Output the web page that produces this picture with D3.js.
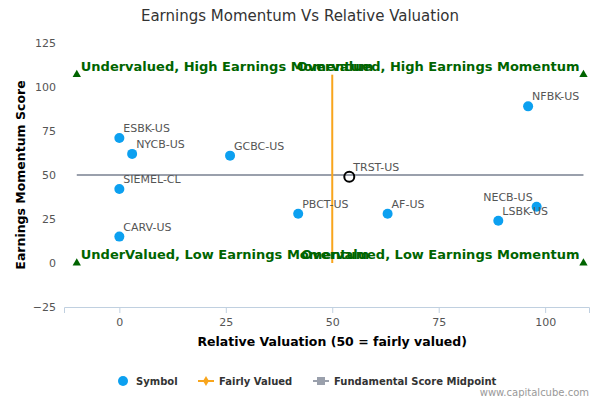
<!DOCTYPE html><html><head><meta charset="utf-8"><script src="https://cdn.jsdelivr.net/npm/d3@7"></script>
<style>body{margin:0;background:#fff}text{font-family:"DejaVu Sans",sans-serif}</style></head><body><svg id="c" width="600" height="400"></svg><script>
const symbols=["NFBK-US","ESBK-US","NYCB-US","GCBC-US","SIEMEL-CL","PBCT-US","AF-US","NECB-US","LSBK-US","CARV-US"];
const valuation=[96,0,3,26,0,42,63,98,89,0];
const momentum=[89,71,62,61,42,28,28,32,24,15];
const subject={name:"TRST-US",x:54,y:49};
const xTicks=[0,25,50,75,100];
const yTicks=[-25,0,25,50,75,100,125];
const quadrants=[["Undervalued, High Earnings Momentum",-10,107],["Overvalued, High Earnings Momentum",109,107],["UnderValued, Low Earnings Momentum",-10,0],["Overvalued, Low Earnings Momentum",109,0]];
const svg=d3.select("#c");
const x=d3.scaleLinear().domain([-13,110.3]).range([64,589]);
const y=d3.scaleLinear().domain([-25,125]).range([307,43]);
svg.append("text").attr("x",300).attr("y",21).attr("text-anchor","middle").attr("font-size",15).attr("fill","#333").text("Earnings Momentum Vs Relative Valuation");
const xa=svg.append("g").attr("transform","translate(0,307)").call(d3.axisBottom(x).tickValues(xTicks).tickSize(6).tickPadding(5));
xa.select(".domain").attr("stroke","#c0d0e0");xa.selectAll(".tick line").attr("stroke","#c0d0e0");
xa.selectAll("text").attr("fill","#555").attr("font-size",11);
const ya=svg.append("g").attr("transform","translate(64,0)").call(d3.axisLeft(y).tickValues(yTicks).tickSize(0).tickPadding(8));
ya.select(".domain").remove();ya.selectAll("text").attr("fill","#555").attr("font-size",11);
svg.append("text").attr("x",x(50)).attr("y",346).attr("text-anchor","middle").attr("font-size",12.5).attr("font-weight","bold").attr("fill","#000").text("Relative Valuation (50 = fairly valued)");
svg.append("text").attr("transform",`translate(25,${y(50)}) rotate(-90)`).attr("text-anchor","middle").attr("font-size",12.5).attr("font-weight","bold").attr("fill","#000").text("Earnings Momentum Score");
svg.append("line").attr("x1",x(-10)).attr("x2",x(109)).attr("y1",y(50)).attr("y2",y(50)).attr("stroke","#9aa0ac").attr("stroke-width",2);
svg.append("line").attr("x1",x(50)).attr("x2",x(50)).attr("y1",y(107)).attr("y2",y(0)).attr("stroke","#f8a51c").attr("stroke-width",2);
quadrants.forEach(q=>{
 svg.append("path").attr("d",d3.symbol(d3.symbolTriangle,30)()).attr("transform",`translate(${x(q[1])},${y(q[2])})`).attr("fill","#006400");
});
[[quadrants[0],-10,"start"],[quadrants[1],109,"end"],[quadrants[2],-10,"start"],[quadrants[3],109,"end"]].forEach(([q,xv,a])=>{
 svg.append("text").attr("x",x(xv)+(a==="start"?4:-4)).attr("y",y(q[2])-4).attr("text-anchor",a).attr("font-size",13).attr("font-weight","bold").attr("fill","#006400").text(q[0]);
});
symbols.forEach((s,i)=>{
 svg.append("circle").attr("cx",x(valuation[i])).attr("cy",y(momentum[i])).attr("r",5).attr("fill","#0ca0f0");
 const left=s==="NECB-US";
 svg.append("text").attr("x",x(valuation[i])+(left?-4:4)).attr("y",y(momentum[i])-6).attr("text-anchor",left?"end":"start").attr("font-size",11).attr("fill","#555").text(s);
});
svg.append("circle").attr("cx",x(subject.x)).attr("cy",y(subject.y)).attr("r",5).attr("fill","none").attr("stroke","#000").attr("stroke-width",2);
svg.append("text").attr("x",x(subject.x)+4).attr("y",y(subject.y)-6).attr("font-size",11).attr("fill","#555").text(subject.name);
const lg=svg.append("g").attr("font-size",10).attr("font-weight","bold").attr("fill","#333");
lg.append("circle").attr("cx",123).attr("cy",381).attr("r",5).attr("fill","#0ca0f0");
lg.append("text").attr("x",136).attr("y",385).text("Symbol");
lg.append("line").attr("x1",198).attr("x2",214).attr("y1",381).attr("y2",381).attr("stroke","#f8a51c").attr("stroke-width",2);
lg.append("path").attr("d",d3.symbol(d3.symbolDiamond,30)()).attr("transform","translate(206,381)").attr("fill","#f8a51c");
lg.append("text").attr("x",219).attr("y",385).text("Fairly Valued");
lg.append("line").attr("x1",313).attr("x2",329).attr("y1",381).attr("y2",381).attr("stroke","#9aa0ac").attr("stroke-width",2);
lg.append("rect").attr("x",317).attr("y",377).attr("width",8).attr("height",8).attr("fill","#9aa0ac");
lg.append("text").attr("x",334).attr("y",385).text("Fundamental Score Midpoint");
svg.append("text").attr("x",589).attr("y",396).attr("text-anchor","end").attr("font-size",10).attr("fill","#999").text("www.capitalcube.com");
</script></body></html>
